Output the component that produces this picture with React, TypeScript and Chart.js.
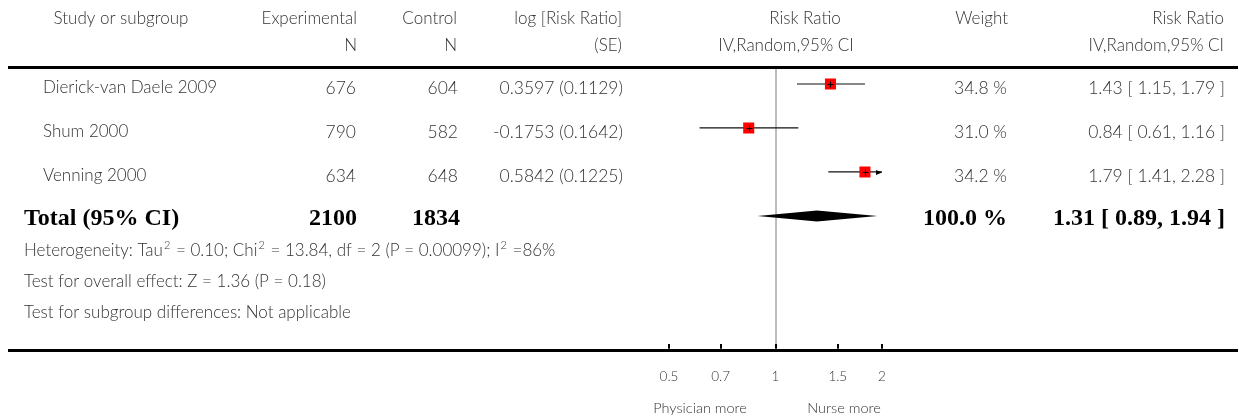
import React, { useEffect, useRef } from 'react';
import { Chart, registerables } from 'chart.js';

Chart.register(...registerables);

// ---------- data ----------
const studies = ['Dierick-van Daele 2009', 'Shum 2000', 'Venning 2000'];
const expN = [676, 790, 634];
const ctrlN = [604, 582, 648];
const logRRSE = ['0.3597 (0.1129)', '-0.1753 (0.1642)', '0.5842 (0.1225)'];
const rr = [1.43, 0.84, 1.79];
const rrLo = [1.15, 0.61, 1.41];
const rrHi = [1.79, 1.16, 2.28];
const weightText = ['34.8 %', '31.0 %', '34.2 %'];
const rrText = ['1.43 [ 1.15, 1.79 ]', '0.84 [ 0.61, 1.16 ]', '1.79 [ 1.41, 2.28 ]'];

const totalLabel = 'Total (95% CI)';
const totalExpN = 2100;
const totalCtrlN = 1834;
const totalRR = 1.31;
const totalLo = 0.89;
const totalHi = 1.94;
const totalWeight = '100.0 %';
const totalText = '1.31 [ 0.89, 1.94 ]';

const heterogeneity = [
  { t: 'Heterogeneity: Tau' }, { t: '2', sup: true }, { t: ' = 0.10; Chi' }, { t: '2', sup: true },
  { t: ' = 13.84, df = 2 (P = 0.00099); I' }, { t: '2', sup: true }, { t: ' =86%' },
];
const overallEffect = 'Test for overall effect: Z = 1.36 (P = 0.18)';
const subgroupDiff = 'Test for subgroup differences: Not applicable';

const xTicks = [0.5, 0.7, 1, 1.5, 2];
const xTickLabels = ['0.5', '0.7', '1', '1.5', '2'];
const favoursLeft = 'Physician more';
const favoursRight = 'Nurse more';

// ---------- styling ----------
const SANS = 'Lato, "Open Sans", sans-serif';
const SERIF = '"Liberation Serif", "DejaVu Serif", serif';
const TXT = '#333';
const FS = 17;     // table text
const FN = 17.5;   // numeric cells

function drawRich(ctx: CanvasRenderingContext2D, segs: { t: string; sup?: boolean }[], x: number, y: number) {
  let cx = x;
  ctx.textAlign = 'left';
  ctx.textBaseline = 'middle';
  for (const s of segs) {
    if (s.sup) {
      ctx.font = `300 ${FS - 6}px ${SANS}`;
      ctx.fillText(s.t, cx + 1, y - 6);
      cx += ctx.measureText(s.t).width + 2;
    } else {
      ctx.font = `300 ${FS}px ${SANS}`;
      ctx.fillText(s.t, cx, y);
      cx += ctx.measureText(s.t).width;
    }
  }
}

const forestPlugin = {
  id: 'forest',
  beforeDatasetsDraw(chart: any) {
    const ctx: CanvasRenderingContext2D = chart.ctx;
    const W = chart.width;
    ctx.save();
    ctx.fillStyle = '#000';
    ctx.fillRect(8, 66, W - 9, 3);
    ctx.fillRect(8, 349, W - 9, 3);
    ctx.restore();
  },
  afterDatasetsDraw(chart: any) {
    const ctx: CanvasRenderingContext2D = chart.ctx;
    const xs = chart.scales.x;
    const ys = chart.scales.y;
    const area = chart.chartArea;
    ctx.save();

    ctx.strokeStyle = '#000';
    ctx.fillStyle = '#000';
    ctx.lineWidth = 1;
    for (let i = 0; i < rr.length; i++) {
      const px = Math.round(xs.getPixelForValue(rr[i])) + 0.5;
      const py = Math.round(ys.getPixelForValue(i)) + 0.5;
      ctx.beginPath();
      ctx.moveTo(px - 3, py);
      ctx.lineTo(px + 3, py);
      ctx.moveTo(px, py - 3);
      ctx.lineTo(px, py + 3);
      ctx.stroke();
      if (rrHi[i] > xs.max) {
        const ax = area.right;
        ctx.beginPath();
        ctx.moveTo(ax, py);
        ctx.lineTo(ax - 6, py - 2.5);
        ctx.lineTo(ax - 6, py + 2.5);
        ctx.closePath();
        ctx.fill();
      }
    }

    const ty = ys.getPixelForValue(3);
    ctx.beginPath();
    ctx.moveTo(xs.getPixelForValue(totalLo), ty);
    ctx.lineTo(xs.getPixelForValue(totalRR), ty - 5.5);
    ctx.lineTo(xs.getPixelForValue(totalHi), ty);
    ctx.lineTo(xs.getPixelForValue(totalRR), ty + 5.5);
    ctx.closePath();
    ctx.fill();

    // ---- header ----
    ctx.fillStyle = TXT;
    ctx.textBaseline = 'middle';
    ctx.font = `300 ${FS}px ${SANS}`;
    const h1 = 19, h2 = 46;
    ctx.textAlign = 'center';
    ctx.fillText('Study or subgroup', 121, h1);
    ctx.fillText('Risk Ratio', 805, h1);
    ctx.fillText('IV,Random,95% CI', 786, h2);
    ctx.textAlign = 'right';
    ctx.fillText('Experimental', 357, h1);
    ctx.fillText('N', 357, h2);
    ctx.fillText('Control', 457, h1);
    ctx.fillText('N', 457, h2);
    ctx.fillText('log [Risk Ratio]', 622, h1);
    ctx.fillText('(SE)', 622, h2);
    ctx.fillText('Weight', 1008, h1);
    ctx.fillText('Risk Ratio', 1224, h1);
    ctx.fillText('IV,Random,95% CI', 1224, h2);

    // ---- study rows ----
    for (let i = 0; i < studies.length; i++) {
      const y = ys.getPixelForValue(i) + 4;
      ctx.font = `300 ${FS}px ${SANS}`;
      ctx.textAlign = 'left';
      ctx.fillText(studies[i], 43, y);
      ctx.font = `300 ${FN}px ${SANS}`;
      ctx.textAlign = 'right';
      ctx.fillText(String(expN[i]), 356, y);
      ctx.fillText(String(ctrlN[i]), 458, y);
      ctx.fillText(logRRSE[i], 623, y);
      ctx.fillText(weightText[i], 1007, y);
      ctx.fillText(rrText[i], 1225, y);
    }

    // ---- total row ----
    ctx.fillStyle = '#000';
    ctx.font = `bold 24px ${SERIF}`;
    ctx.textBaseline = 'alphabetic';
    const tb = ty + 9;
    ctx.textAlign = 'left';
    ctx.fillText(totalLabel, 24, tb);
    ctx.textAlign = 'right';
    ctx.fillText(String(totalExpN), 357, tb);
    ctx.fillText(String(totalCtrlN), 460, tb);
    ctx.fillText(totalWeight, 1007, tb);
    ctx.fillText(totalText, 1225, tb);

    // ---- footnotes ----
    ctx.fillStyle = TXT;
    drawRich(ctx, heterogeneity, 24, 251);
    ctx.font = `300 ${FS}px ${SANS}`;
    ctx.textAlign = 'left';
    ctx.textBaseline = 'middle';
    ctx.fillText(overallEffect, 24, 282);
    ctx.fillText(subgroupDiff, 24, 313);

    // ---- favours labels ----
    ctx.font = `300 14.5px ${SANS}`;
    ctx.textAlign = 'center';
    ctx.fillText(favoursLeft, 700, 408);
    ctx.fillText(favoursRight, 844, 408);

    ctx.restore();
  },
};

export default function App() {
  const ref = useRef<HTMLCanvasElement>(null);
  useEffect(() => {
    if (!ref.current) return;
    const ciSets = studies.map((_, i) => ({
      type: 'line' as const,
      data: [{ x: rrLo[i], y: i }, { x: rrHi[i], y: i }],
      borderColor: '#111',
      borderWidth: 1.2,
      pointRadius: 0,
      order: 2,
    }));
    const chart = new Chart(ref.current, {
      type: 'scatter',
      data: {
        datasets: [
          ...ciSets,
          {
            type: 'scatter' as const,
            data: rr.map((v, i) => ({ x: v, y: i })),
            pointStyle: 'rect',
            pointRadius: 7.8,
            pointHoverRadius: 7.8,
            backgroundColor: '#ff0000',
            borderWidth: 0,
            order: 1,
          },
        ] as any,
      },
      options: {
        animation: false,
        responsive: false,
        events: [],
        layout: { padding: { left: 669, right: 357, top: 69, bottom: 12 } },
        plugins: { legend: { display: false }, tooltip: { enabled: false } },
        scales: {
          x: {
            type: 'logarithmic',
            min: 0.5,
            max: 2,
            afterBuildTicks: (scale: any) => {
              scale.ticks = xTicks.map((v) => ({ value: v }));
            },
            border: { display: false },
            grid: {
              drawOnChartArea: true,
              color: (c: any) => (c.tick && c.tick.value === 1 ? '#bdbdbd' : 'rgba(0,0,0,0)'),
              lineWidth: 2,
              tickColor: '#000',
              tickWidth: 2,
              tickLength: 5,
            },
            ticks: {
              padding: 20,
              color: TXT,
              font: { family: SANS, size: 13.5, weight: 300 as any },
              callback: (v: any) => {
                const idx = xTicks.indexOf(Number(v));
                return idx >= 0 ? xTickLabels[idx] : '';
              },
              maxRotation: 0,
              autoSkip: false,
            },
          },
          y: {
            type: 'linear',
            display: false,
            reverse: true,
            min: -15 / 44,
            max: 260 / 44,
          },
        },
      } as any,
      plugins: [forestPlugin],
    });
    return () => chart.destroy();
  }, []);
  return (
    <div style={{ position: 'absolute', left: 0, top: 0, width: 1239, height: 417, background: '#fff' }}>
      <canvas ref={ref} width={1239} height={417} style={{ display: 'block', width: 1239, height: 417 }} />
    </div>
  );
}
